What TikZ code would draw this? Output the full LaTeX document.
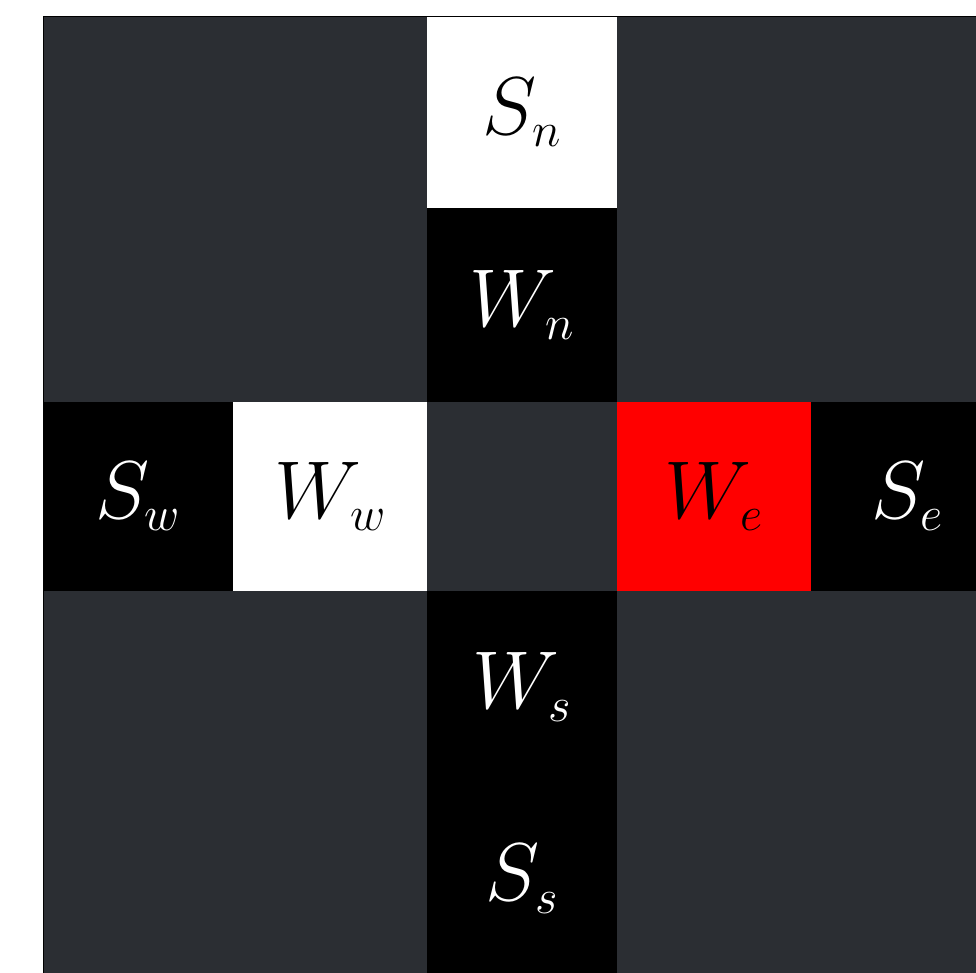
\RequirePackage{fix-cm}
\documentclass[tikz,border=0pt]{standalone}
\definecolor{bgdark}{RGB}{43,46,51}
\DeclareMathSizes{82}{82}{48.5}{40}
\begin{document}
\begin{tikzpicture}[x=1pt,y=-1pt,
  cellbox/.style={anchor=north west, inner sep=0pt, outer sep=0pt,
    font=\fontsize{82}{90}\selectfont},
  blackcell/.style={cellbox, fill=black, text=white},
  whitecell/.style={cellbox, fill=white, text=black},
  redcell/.style={cellbox, fill=red, text=black}]
\useasboundingbox (0,0) rectangle (976,973);
\clip (0,0) rectangle (976,973);
\fill[bgdark] (43,17) rectangle (1003,975);
\node[whitecell, minimum width=190pt, minimum height=191pt] (sn) at (427,17) {$S_n$};
\node[blackcell, minimum width=190pt, minimum height=194pt] (wn) at (427,208) {$W_n$};
\node[blackcell, minimum width=190pt, minimum height=189pt] (sw) at (43,402) {$S_w$};
\node[whitecell, minimum width=194pt, minimum height=189pt] (ww) at (233,402) {$W_w$};
\node[redcell, minimum width=194pt, minimum height=189pt] (we) at (617,402) {$W_e$};
\node[blackcell, minimum width=192pt, minimum height=189pt] (se) at (811,402) {$S_e$};
\node[blackcell, minimum width=190pt, minimum height=192pt] (ws) at (427,591) {$W_s$};
\node[blackcell, minimum width=190pt, minimum height=192pt] (ss) at (427,783) {$S_s$};
\draw[black, line width=1pt] (43,975) -- (43,17) -- (1003,17);
\end{tikzpicture}
\end{document}
